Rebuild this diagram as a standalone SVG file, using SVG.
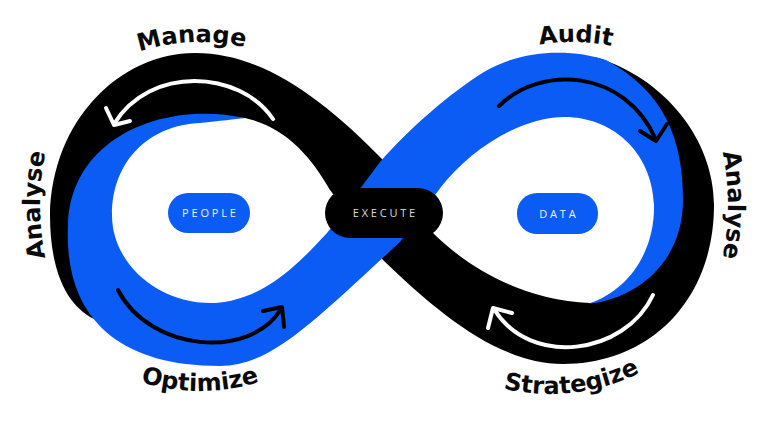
<svg xmlns="http://www.w3.org/2000/svg" width="768" height="422" viewBox="0 0 768 422">
<style>
.lbl{font-family:"DejaVu Sans","Liberation Sans",sans-serif;font-weight:700;font-size:24px;fill:#0a0a0a}
.pt{font-family:"Open Sans","Liberation Sans",sans-serif;font-size:11px;letter-spacing:2.8px;text-anchor:middle}
.arw{fill:none;stroke-width:4;stroke-linecap:round;stroke-linejoin:round}
.blue{fill:#0b5cf5}
</style>
<defs>
<path id="pManage" d="M 40 123.4 A 198 198 0 0 1 360 123.4"/>
<path id="pAudit" d="M 412 123.4 A 198 198 0 0 1 732 123.4"/>
<path id="pOpt" d="M 50 323.3 A 200 200 0 0 0 350 323.3"/>
<path id="pStrat" d="M 400 326.3 A 200 200 0 0 0 700 326.3"/>
<path id="pAnL" d="M 72 330 A 260 260 0 0 1 72 80"/>
<path id="pAnR" d="M 696 80 A 260 260 0 0 1 696 330"/>
</defs>
<rect width="768" height="422" fill="#ffffff"/>
<g id="ribbons">
<path id="black-band" fill="#000" d="M 94 319 C 66 305 50 270 50 215 C 52 120 120 53 195 53 C 260 53 320 95 385 162 L 433 233 C 465 265 520 300 590 303 C 630 300 668 260 668 200 C 668 150 640 90 595 57 C 665 78 714 140 714 205 C 714 300 650 364 563 364 C 500 364 440 315 383 260 L 330 190 C 310 155 285 127 245 118 C 140 112 75 170 85 240 C 86 270 90 300 94 319 Z"/>
<path id="blue-band" class="blue" d="M 245 118 C 160 100 70 140 68 225 C 64 310 110 366 220 366 C 270 366 310 325 400 242 L 441 187 C 470 150 520 117 565 117 C 610 117 652 150 654 205 C 655 250 630 290 588 304 C 640 298 683 260 683 200 C 683 140 665 92 606 60 C 570 48 520 50 484 72 C 450 93 410 128 380 162 L 327 233 C 300 262 265 300 215 303 C 160 305 112 265 112 215 C 112 160 150 125 200 123 C 220 121 235 119 245 118 Z"/>
</g>
<g id="connectors">
<g id="arrow-manage" stroke="#fff" class="arw">
<path d="M 273 119 C 240 70 150 65 114 124"/>
<path d="M 106 108 L 114 125 L 130 121"/>
</g>
<g id="arrow-audit" stroke="#000" class="arw">
<path d="M 499 106 C 540 65 625 68 656 140"/>
<path d="M 640 131 L 656 141 L 667 124"/>
</g>
<g id="arrow-optimize" stroke="#000" class="arw">
<path d="M 118 290 C 150 352 250 360 281 309"/>
<path d="M 263 311 L 282 307 L 284 327"/>
</g>
<g id="arrow-strategize" stroke="#fff" class="arw">
<path d="M 653 295 C 625 355 530 368 494 309"/>
<path d="M 488 328 L 493 308 L 512 313"/>
</g>
</g>
<g id="node-people">
<rect x="168" y="193" width="82" height="40" rx="20" class="blue"/>
<text x="210.4" y="217" class="pt" fill="#eef3ff">PEOPLE</text>
</g>
<g id="node-execute">
<rect x="325" y="188" width="118" height="50" rx="25" fill="#000"/>
<text x="385.4" y="217" class="pt" fill="#dddddd">EXECUTE</text>
</g>
<g id="node-data">
<rect x="517" y="193" width="81" height="41" rx="20" class="blue"/>
<text x="558.9" y="217.5" class="pt" fill="#eef3ff">DATA</text>
</g>
<g id="labels">
<text class="lbl"><textPath href="#pManage" startOffset="47.8%" text-anchor="middle">Manage</textPath></text>
<text class="lbl"><textPath href="#pAudit" startOffset="51%" text-anchor="middle">Audit</textPath></text>
<text class="lbl"><textPath href="#pOpt" startOffset="50%" text-anchor="middle">Optimize</textPath></text>
<text class="lbl"><textPath href="#pStrat" startOffset="56.8%" text-anchor="middle">Strategize</textPath></text>
<text class="lbl"><textPath href="#pAnL" startOffset="50%" text-anchor="middle">Analyse</textPath></text>
<text class="lbl"><textPath href="#pAnR" startOffset="50%" text-anchor="middle">Analyse</textPath></text>
</g>
</svg>
